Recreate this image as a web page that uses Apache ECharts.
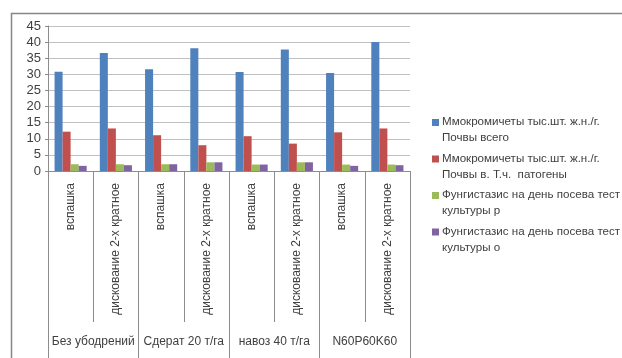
<!DOCTYPE html>
<html>
<head>
<meta charset="utf-8">
<script src="https://cdn.jsdelivr.net/npm/echarts@6/dist/echarts.min.js"></script>
<style>
  html, body { margin: 0; padding: 0; background: #fff; }
  #chart { width: 622px; height: 358px; }
</style>
</head>
<body>
<div id="chart"></div>
<script>
// Treatment variants (inner level) and fertilizer groups (outer level)
const tillage = ['вспашка', 'дискование 2-х кратное', 'вспашка', 'дискование 2-х кратное',
                 'вспашка', 'дискование 2-х кратное', 'вспашка', 'дискование 2-х кратное'];
const groups = ['Без убодрений', 'Сдерат 20 т/га', 'навоз 40 т/га', 'N60P60K60'];

const seriesNames = [
  'Ммокромичеты тыс.шт. ж.н./г.\nПочвы всего',
  'Ммокромичеты тыс.шт. ж.н./г.\nПочвы в. Т.ч.  патогены',
  'Фунгистазис на день посева тест\nкультуры р',
  'Фунгистазис на день посева тест\nкультуры о'
];

const microTotal    = [30.8, 36.6, 31.6, 38.1, 30.7, 37.7, 30.4, 40.0];
const microPathogen = [12.2, 13.2, 11.1, 8.0, 10.8, 8.5, 12.0, 13.2];
const fungiP        = [2.1, 2.1, 2.1, 2.7, 2.0, 2.7, 2.0, 2.0];
const fungiO        = [1.6, 1.8, 2.1, 2.7, 2.0, 2.7, 1.6, 1.8];

const yTicks = { min: 0, max: 45, interval: 5 };

const colors = ['#4F81BD', '#C0504D', '#9BBB59', '#8064A2'];
const values = [microTotal, microPathogen, fungiP, fungiO];

const FONT = '"Liberation Sans", Arial, sans-serif';
const TEXT = '#404040';
const LINE = '#8c8c8c';

const chart = echarts.init(document.getElementById('chart'), null, { renderer: 'canvas' });

chart.setOption({
  animation: false,
  backgroundColor: '#ffffff',
  color: colors,
  textStyle: { fontFamily: FONT },
  graphic: [{
    type: 'rect',
    left: 9, top: 11,
    shape: { width: 700, height: 400 },
    style: { fill: 'none', stroke: '#868686', lineWidth: 1.5 },
    silent: true
  }],
  grid: { left: 48, right: 212, top: 26, bottom: 187, containLabel: false },
  legend: {
    orient: 'vertical',
    left: 432, top: 114,
    padding: 0,
    itemWidth: 7, itemHeight: 30,
    itemGap: 4.5,
    icon: 'path://M0,4h7v7h-7zM0,0M0,30',
    textStyle: { fontFamily: FONT, fontSize: 11.6, color: TEXT, lineHeight: 16, padding: [0, 0, 0, -2] },
    data: seriesNames
  },
  xAxis: [{
    type: 'category',
    data: tillage,
    position: 'bottom',
    axisLine: { show: true, lineStyle: { color: LINE, width: 1 } },
    axisTick: { show: true, interval: 0, length: 151, lineStyle: { color: LINE } },
    axisLabel: { interval: 0, rotate: 90, margin: 12, fontSize: 12, color: TEXT, fontFamily: FONT }
  }, {
    type: 'category',
    data: groups,
    position: 'bottom',
    axisLine: { show: false },
    axisTick: { show: true, interval: 0, length: 190, lineStyle: { color: LINE } },
    axisLabel: { interval: 0, margin: 165, fontSize: 12, color: TEXT, fontFamily: FONT }
  }],
  yAxis: {
    type: 'value',
    min: yTicks.min, max: yTicks.max, interval: yTicks.interval,
    axisLine: { show: true, lineStyle: { color: LINE } },
    axisTick: { show: true, length: 3, lineStyle: { color: LINE } },
    splitLine: { show: true, lineStyle: { color: '#c0c0c0' } },
    axisLabel: { fontSize: 13, color: TEXT, margin: 7, fontFamily: FONT }
  },
  series: values.map((v, i) => ({
    name: seriesNames[i],
    type: 'bar',
    xAxisIndex: 0,
    data: v,
    barGap: '0%',
    barCategoryGap: '29%',
    itemStyle: { color: colors[i] }
  }))
});
</script>
</body>
</html>
